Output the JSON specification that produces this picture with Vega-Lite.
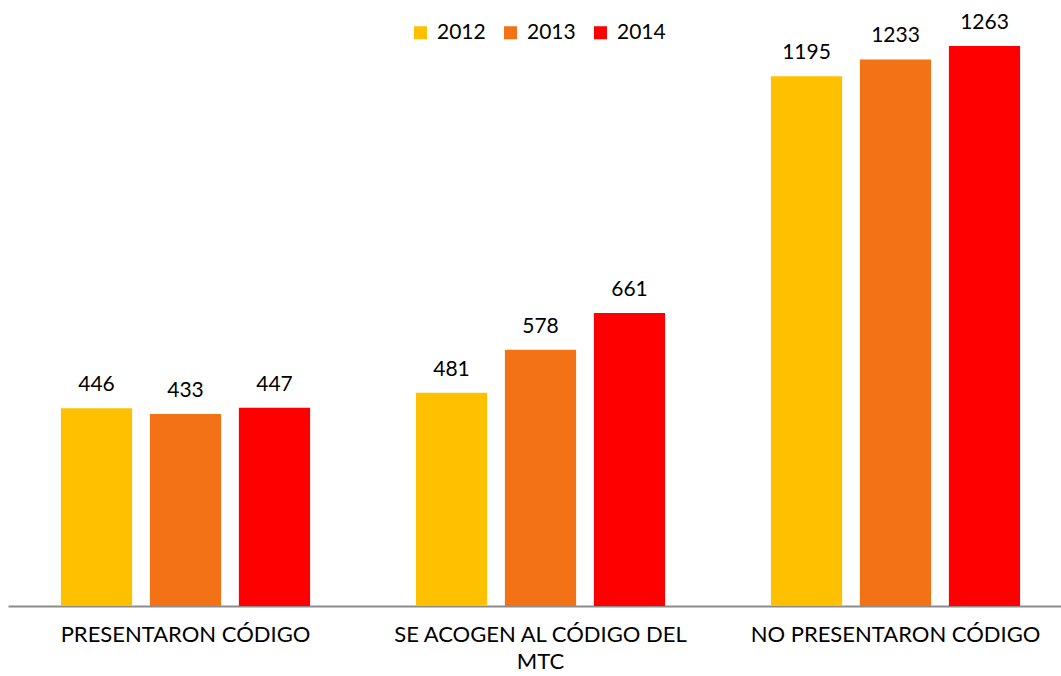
{
  "$schema": "https://vega.github.io/schema/vega-lite/v6.json",
  "autosize": "none",
  "width": 1065,
  "height": 606,
  "padding": {"left": 8, "top": 0, "right": 0, "bottom": 70},
  "background": "white",
  "config": {"view": {"stroke": null}, "font": "Lato"},
  "data": {"values": [
    {"cat": "PRESENTARON CÓDIGO", "year": "2012", "value": 446},
    {"cat": "PRESENTARON CÓDIGO", "year": "2013", "value": 433},
    {"cat": "PRESENTARON CÓDIGO", "year": "2014", "value": 447},
    {"cat": "SE ACOGEN AL CÓDIGO DEL MTC", "year": "2012", "value": 481},
    {"cat": "SE ACOGEN AL CÓDIGO DEL MTC", "year": "2013", "value": 578},
    {"cat": "SE ACOGEN AL CÓDIGO DEL MTC", "year": "2014", "value": 661},
    {"cat": "NO PRESENTARON CÓDIGO", "year": "2012", "value": 1195},
    {"cat": "NO PRESENTARON CÓDIGO", "year": "2013", "value": 1233},
    {"cat": "NO PRESENTARON CÓDIGO", "year": "2014", "value": 1263}
  ]},
  "encoding": {
    "x": {"field": "cat", "type": "nominal", "sort": null,
      "scale": {"paddingInner": 0.248, "paddingOuter": 0.124},
      "axis": {"title": null, "labelAngle": 0, "ticks": false, "domainColor": "#8c8c8c", "domainWidth": 2,
        "labelFontSize": 22, "labelColor": "#000000", "labelPadding": 18, "labelLineHeight": 27,
        "labelLimit": 400,
        "labelExpr": "datum.label == 'SE ACOGEN AL CÓDIGO DEL MTC' ? ['SE ACOGEN AL CÓDIGO DEL', 'MTC'] : datum.label"}},
    "xOffset": {"field": "year", "type": "nominal", "scale": {"paddingInner": 0.2, "paddingOuter": 0.1}},
    "y": {"field": "value", "type": "quantitative", "scale": {"domain": [0, 1367]}, "axis": null}
  },
  "layer": [
    {"mark": {"type": "bar"},
     "encoding": {"color": {"field": "year", "type": "nominal",
       "scale": {"domain": ["2012", "2013", "2014"], "range": ["#FFC000", "#F47216", "#FF0000"]},
       "legend": {"title": null, "orient": "none", "direction": "horizontal", "legendX": 402, "legendY": 22,
         "symbolType": "square", "symbolSize": 169, "symbolStrokeWidth": 0, "labelFontSize": 21, "labelColor": "#000000",
         "columnPadding": 14, "labelOffset": 6}}}},
    {"mark": {"type": "text", "baseline": "alphabetic", "dy": -17, "fontSize": 21, "color": "#000000"},
     "encoding": {"text": {"field": "value", "type": "quantitative"}}}
  ]
}
